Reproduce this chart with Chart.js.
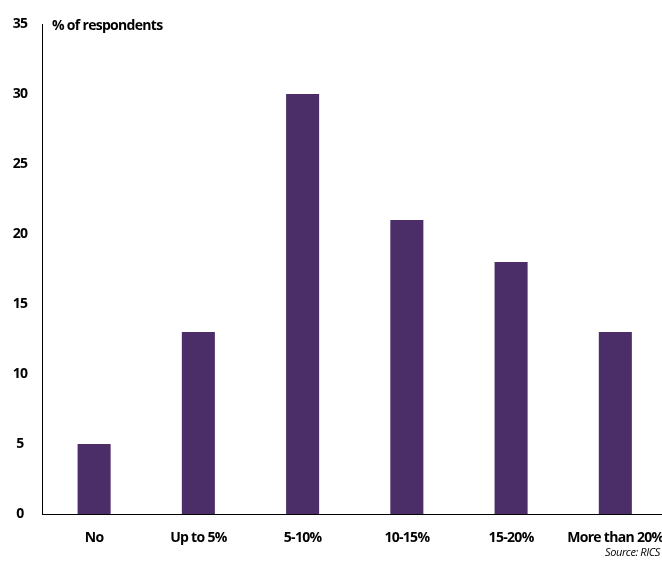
<!DOCTYPE html>
<html>
<head>
<meta charset="utf-8">
<script src="https://cdn.jsdelivr.net/npm/chart.js@4.4.1/dist/chart.umd.min.js"></script>
<style>
  html, body { margin: 0; padding: 0; background: #fff; overflow: hidden; }
  #wrap { position: relative; width: 668px; height: 567px; }
</style>
</head>
<body>
<div id="wrap"><canvas id="respChart"></canvas></div>
<script>
const categories = ['No', 'Up to 5%', '5-10%', '10-15%', '15-20%', 'More than 20%'];
const respondents = [5, 13, 30, 21, 18, 13];
const yTicks = [0, 5, 10, 15, 20, 25, 30, 35];
const unitLabel = '% of respondents';
const sourceNote = 'Source: RICS';

const FONT = "'Open Sans', 'Liberation Sans', sans-serif";
const SPACING = '-0.7px';

// tighter letters, the original uses a condensed face
const tightText = {
    id: 'tightText',
    beforeDraw(chart) {
        chart.ctx.letterSpacing = SPACING;
    },
    afterDraw(chart) {
        const ctx = chart.ctx;
        const y = chart.scales.y;
        ctx.save();
        ctx.letterSpacing = SPACING;
        ctx.fillStyle = '#000';
        ctx.textBaseline = 'middle';
        ctx.textAlign = 'left';
        ctx.font = 'bold 14px ' + FONT;
        ctx.fillText(unitLabel, chart.chartArea.left + 10, y.getPixelForValue(35) + 2);
        ctx.font = 'italic 11px ' + FONT;
        ctx.textAlign = 'right';
        ctx.letterSpacing = '-0.4px';
        ctx.fillText(sourceNote, 660, 553);
        ctx.restore();
    }
};

const ctx = document.getElementById('respChart');
const respChart = new Chart(ctx, {
    type: 'bar',
    data: {
        labels: categories,
        datasets: [{
            data: respondents,
            backgroundColor: '#4b2e67',
            borderWidth: 0,
            barPercentage: 0.317,
            categoryPercentage: 1
        }]
    },
    options: {
        responsive: true,
        maintainAspectRatio: false,
        animation: false,
        layout: { padding: { top: 24, left: 0, right: 0, bottom: 0 } },
        plugins: {
            legend: { display: false },
            tooltip: { enabled: false }
        },
        scales: {
            x: {
                grid: { display: false, drawTicks: true, tickLength: 16 },
                border: { display: true, color: '#000', width: 1 },
                ticks: {
                    color: '#000',
                    font: { family: FONT, size: 14, weight: 'bold' },
                    padding: 0,
                    maxRotation: 0,
                    autoSkip: false
                },
                afterFit(scale) { scale.height = 53; }
            },
            y: {
                min: 0,
                max: 35,
                grid: { display: false, drawTicks: true, tickLength: 14 },
                border: { display: true, color: '#000', width: 1 },
                afterBuildTicks(scale) {
                    scale.ticks = yTicks.map(v => ({ value: v }));
                },
                ticks: {
                    color: '#000',
                    font: { family: FONT, size: 14, weight: 'bold' },
                    crossAlign: 'center',
                    padding: 0
                },
                afterFit(scale) { scale.width = 42; }
            }
        }
    },
    plugins: [tightText]
});
</script>
</body>
</html>
